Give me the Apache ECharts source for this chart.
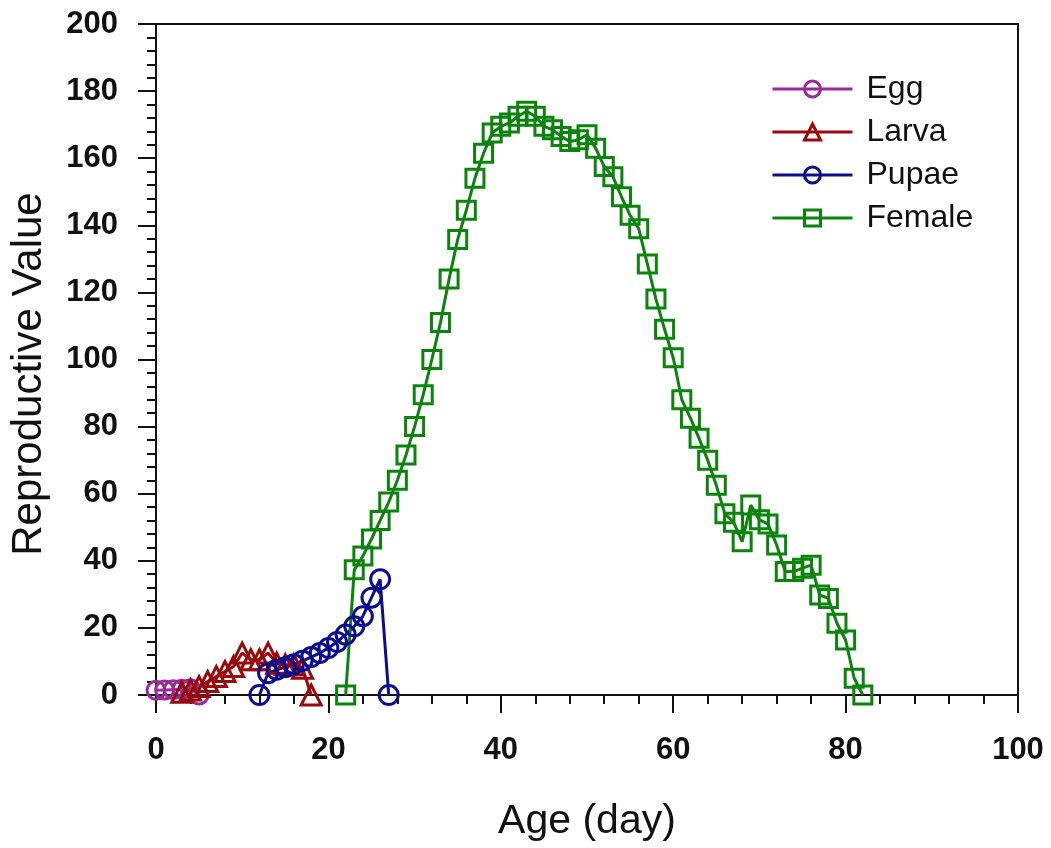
<!DOCTYPE html>
<html>
<head>
<meta charset="utf-8">
<script src="https://cdn.jsdelivr.net/npm/echarts@6/dist/echarts.min.js"></script>
<style>
html,body{margin:0;padding:0;background:#fff;}
#chart{width:1051px;height:848px;}
</style>
</head>
<body>
<div id="chart"></div>
<script>
// Data
const eggDays = [0, 1, 2, 3, 4, 5];
const eggValues = [1.4, 1.5, 1.6, 1.7, 1.9, 0];

const larvaDays = [3, 4, 5, 6, 7, 8, 9, 10, 11, 12, 13, 14, 15, 16, 17, 18];
const larvaValues = [0.8, 1.5, 2.5, 4, 5.5, 7, 8.5, 12.5, 10.5, 10.5, 12.5, 9.5, 9, 9, 8, 0];

const pupaeDays = [12, 13, 14, 15, 16, 17, 18, 19, 20, 21, 22, 23, 24, 25, 26, 27];
const pupaeValues = [0, 6.5, 7.5, 8.3, 9.2, 10.2, 11.3, 12.5, 14, 15.8, 18, 20.5, 23.5, 29, 34.5, 0];

const femaleDays = [22, 23, 24, 25, 26, 27, 28, 29, 30, 31, 32, 33, 34, 35, 36, 37, 38, 39, 40, 41,
  42, 43, 44, 45, 46, 47, 48, 49, 50, 51, 52, 53, 54, 55, 56, 57, 58, 59, 60, 61,
  62, 63, 64, 65, 66, 67, 68, 69, 70, 71, 72, 73, 74, 75, 76, 77, 78, 79, 80, 81, 82];
const femaleValues = [0, 37.3, 41.4, 46.5, 52, 57.5, 64, 71.5, 80, 89.5, 100, 111, 124, 135.8, 144.5, 154, 161.5, 167.5, 169.5, 170.5,
  172.5, 174, 172.5, 169.5, 168.5, 166.5, 165, 165.5, 167, 163, 157.5, 154.5, 148.5, 143, 139, 128.5, 118, 109, 100.5, 88,
  82.5, 76.5, 70, 62.5, 54, 51.5, 45.7, 56.6, 52.2, 51, 44.7, 36.8, 36.8, 37.8, 38.7, 29.8, 28.8, 21.4, 16.4, 5, 0];

const seriesNames = ['Egg', 'Larva', 'Pupae', 'Female'];
const xTickMin = 0, xTickMax = 100, xTickStep = 20;
const yTickMin = 0, yTickMax = 200, yTickStep = 20;

function pairs(xs, ys) { return xs.map((x, i) => [x, ys[i]]); }

const chart = echarts.init(document.getElementById('chart'), null, {renderer: 'canvas'});

function makeSeries(name, data, color, symbol, size) {
  return {
    name: name,
    type: 'line',
    data: data,
    symbol: symbol,
    symbolSize: size,
    showAllSymbol: true,
    lineStyle: {color: color, width: 3},
    itemStyle: {color: 'rgba(255,255,255,0)', borderColor: color, borderWidth: 3},
    emphasis: {disabled: true},
    animation: false
  };
}

const axisCommon = {
  axisLine: {show: true, onZero: false, lineStyle: {color: '#111', width: 2}},
  axisTick: {show: true, inside: false, length: 18, lineStyle: {color: '#111', width: 2}},
  minorTick: {show: true, splitNumber: 5, length: 9, lineStyle: {color: '#111', width: 2}},
  splitLine: {show: false}
};

chart.setOption({
  backgroundColor: '#fff',
  animation: false,
  grid: {left: 156, right: 33, top: 24, bottom: 153, show: true, borderColor: '#111', borderWidth: 2, backgroundColor: 'transparent'},
  xAxis: Object.assign({}, axisCommon, {
    type: 'value', min: xTickMin, max: xTickMax, interval: xTickStep,
    name: 'Age (day)', nameLocation: 'middle', nameGap: 106,
    nameTextStyle: {fontFamily: 'Liberation Sans, Arial', fontSize: 41, color: '#111'},
    axisLabel: {margin: 40, fontFamily: 'Liberation Sans, Arial', fontWeight: 'bold', fontSize: 31, color: '#111'}
  }),
  yAxis: Object.assign({}, axisCommon, {
    type: 'value', min: yTickMin, max: yTickMax, interval: yTickStep,
    axisLabel: {margin: 38, fontFamily: 'Liberation Sans, Arial', fontWeight: 'bold', fontSize: 31, color: '#111'}
  }),
  graphic: [{
    type: 'text',
    x: 29, y: 374,
    rotation: Math.PI / 2,
    style: {text: 'Reproductive Value', fontFamily: 'Liberation Sans, Arial', fontSize: 42, fill: '#111', align: 'center', verticalAlign: 'middle'}
  }],
  legend: {
    orient: 'vertical', left: 766, top: 67,
    itemWidth: 80, itemHeight: 20, itemGap: 9,
    data: seriesNames,
    itemStyle: {borderWidth: 3},
    lineStyle: {width: 3},
    symbolRotate: 'inherit',
    textStyle: {fontFamily: 'Liberation Sans, Arial', fontSize: 32, color: '#111', lineHeight: 34, padding: [0, 0, 0, 9]}
  },
  series: [
    makeSeries(seriesNames[0], pairs(eggDays, eggValues), '#9a2a9a', 'circle', 18),
    makeSeries(seriesNames[1], pairs(larvaDays, larvaValues), '#9a0a0a', 'triangle', 20),
    makeSeries(seriesNames[2], pairs(pupaeDays, pupaeValues), '#0c0c92', 'circle', 19),
    makeSeries(seriesNames[3], pairs(femaleDays, femaleValues), '#0a840a', 'rect', 18)
  ]
});
</script>
</body>
</html>
